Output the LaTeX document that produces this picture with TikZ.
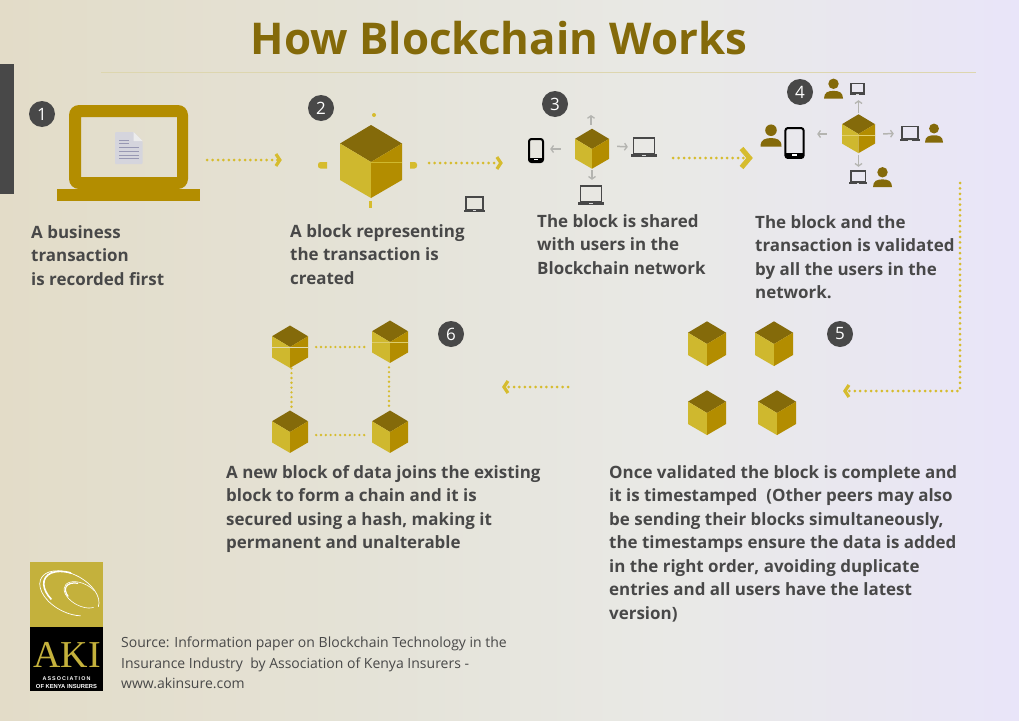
\documentclass[tikz,border=0pt]{standalone}
\usepackage{fontspec}
\setmainfont{Open Sans}
\newfontfamily\logoserif{Liberation Serif}
\newfontfamily\logosans[LetterSpace=20]{Liberation Sans}
\newfontfamily\logosanstight{Liberation Sans}
\usetikzlibrary{positioning}
\usetikzlibrary{arrows.meta}
\definecolor{akidark}{HTML}{484848}
\definecolor{akigold}{HTML}{B38D00}
\definecolor{akibrown}{HTML}{846A0A}
\definecolor{akiyellow}{HTML}{CFB82E}
\definecolor{akidots}{HTML}{D6BC2E}
\definecolor{akigrey}{HTML}{B4B4B0}
\definecolor{akilogo}{HTML}{C4B13C}
\definecolor{bgmid}{HTML}{E7E6E0}
\definecolor{akibg0}{HTML}{E3DCC8}
\definecolor{akibg1}{HTML}{E4E2D6}
\definecolor{akibg2}{HTML}{E9E9E6}
\definecolor{akibg3}{HTML}{E9E7F1}
\definecolor{akibg4}{HTML}{E9E5F9}
\pgfdeclarehorizontalshading{pagebg}{100bp}{
  color(0bp)=(akibg0); color(25bp)=(akibg0); color(42bp)=(akibg1);
  color(58bp)=(akibg2); color(68bp)=(akibg3); color(75bp)=(akibg4); color(100bp)=(akibg4)}
\tikzset{
  cube/.pic = {
    \fill[akibrown] (0,-37) -- (31,-18.5) -- (0,0) -- (-31,-18.5) -- cycle;
    \fill[akiyellow] (-31,-18.5) -- (0,0) -- (0,36) -- (-31,18) -- cycle;
    \fill[akigold] (31,-18.5) -- (0,0) -- (0,36) -- (31,18) -- cycle;
  },
  biglaptop/.pic = {
    \fill[akigold,even odd rule,rounded corners=10pt] (-59.5,-48) rectangle (59.5,36)
      [sharp corners] (-47.5,-36) rectangle (48.5,24);
    \fill[akigold] (-71.5,36) rectangle (71.5,48);
    % the document on the screen
    \fill[rounded corners=1pt,fill=blue!10!gray!30] (-13.5,-21) -- (5,-21) -- (14,-12) -- (14,11) -- (-13.5,11) -- cycle;
    \fill[gray!15] (5,-21) -- (14,-12) -- (5,-12) -- cycle;
    \foreach \ypos in {-6,-2,2,5}
      \draw[blue!15!gray!70,line width=1pt] (-9.5,\ypos) -- (10,\ypos);
    \foreach \ypos in {-13,-10}
      \draw[blue!15!gray!70,line width=1pt] (-9.5,\ypos) -- (0,\ypos);
  },
  laptop/.pic = {
    \draw[akidark,line width=1.7pt] (-10.5,-9) rectangle (10.5,7);
    \fill[akidark] (-13,7) -- (13,7) -- (13,10) -- (-13,10) -- cycle;
    \fill[white!80!akidark] (-2,8) rectangle (2,9);
  },
  phone/.pic = {
    \draw[black,line width=2pt,rounded corners=2.5pt] (-7,-11.5) rectangle (7,11.5);
    \fill[black] (-7,7.5) rectangle (7,11);
    \fill[white] (-2,8.7) rectangle (2,9.7);
  },
  person/.pic = {
    \fill[akibrown] (0,-5.5) circle (5.5);
    \fill[akibrown] (-10,10) .. controls (-10,3) and (-5,2) .. (0,2)
      .. controls (5,2) and (10,3) .. (10,10) -- cycle;
  },
  numdot/.style = {circle,fill=akidark,text=white,inner sep=0pt,minimum size=26pt,
    font=\fontsize{17}{20}\selectfont},
  caption/.style = {anchor=north west,inner sep=0pt,align=left,text=akidark,
    font=\fontsize{16.95}{23.5}\selectfont\bfseries},
  spot/.style = {inner sep=0pt},
  dotarrow/.style = {draw=akidots,line width=3pt,line cap=round,dash pattern=on 0pt off 5.4pt,
    -{Straight Barb[length=4pt,width=12pt,line width=3.2pt]}},
  bigdotarrow/.style = {dotarrow,
    -{Straight Barb[length=8pt,width=19pt,line width=5pt]}},
  dotlink/.style = {draw=akidots,line width=2.6pt,line cap=round,dash pattern=on 0pt off 4.8pt},
  greyarrow/.style = {draw=akigrey,line width=1.5pt,
    -{Straight Barb[length=2.5pt,width=7pt,line width=1.3pt]}},
}
% #1 name, #2 position, #3 half width of the cube
\newcommand{\blockcube}[3]{
  \node[spot,minimum width=2*#3 pt,minimum height=2.35*#3 pt] (#1) at (#2) {};
  \pic[scale=#3/31] at (#1) {cube};
}
% #1 name, #2 position, #3 pic, #4 scale, #5 width, #6 height
\newcommand{\iconat}[6]{
  \node[spot,minimum width=#5 pt,minimum height=#6 pt] (#1) at (#2) {};
  \pic[scale=#4] at (#1) {#3};
}
\begin{document}
\begin{tikzpicture}[x=1pt,y=-1pt]
  \useasboundingbox (0,0) rectangle (1019,720);
  \shade[shading=pagebg] (0,0) rectangle (1019,720);
  \fill[akidark] (0,64) rectangle (14,194);
  \draw[akilogo!30!bgmid,line width=1pt] (101,72) -- (976,72);
  \node[inner sep=0pt,text=akibrown,font=\fontsize{43.8}{50}\selectfont\bfseries] (title) at (499,38.5) {How Blockchain Works};

  % step 1
  \node[numdot] (n1) at (42,114) {1};
  \iconat{l1}{128.5,153}{biglaptop}{1}{143}{96}
  \node[caption] (t1) at (31,225) {A business\\transaction\\is recorded first};

  % step 2
  \node[numdot] (n2) at (321,108) {2};
  \blockcube{c2}{371,162}{31}
  \draw[akiyellow,line width=.6pt] (371,162) -- (402,162);
  \fill[akidots] (374,115) circle (2);
  \fill[akidots] (327,162) -- (327,168.5) [rounded corners=2.5pt] -- (318,168.5) -- (318,162) [sharp corners] -- cycle;
  \fill[akidots] (410,162) -- (410,168.5) [rounded corners=2.5pt] -- (417,168.5) -- (417,162) [sharp corners] -- cycle;
  \fill[akidots] (369,201) rectangle (372,208);
  \iconat{l2}{474.5,204}{laptop}{.8}{21}{16}
  \node[caption] (t2) at (290,224) {A block representing\\the transaction is\\created};
  \draw[dotarrow,shorten <=7pt,shorten >=58pt] ([yshift=-7pt]l1.east) -- ([yshift=2pt]c2.west);

  % step 3
  \node[numdot] (n3) at (555,104) {3};
  \blockcube{c3}{592,149}{17}
  \iconat{p3}{536,150.5}{phone}{1}{16}{25}
  \iconat{la3}{644,147}{laptop}{1}{26}{20}
  \iconat{lb3}{591,195}{laptop}{1}{26}{20}
  \coordinate (u3) at (591,115);
  \draw[greyarrow,shorten <=4pt] (c3.north) ++(-1,0) -- (u3);
  \draw[greyarrow,shorten <=14pt,shorten >=6pt] (c3.west) -- (p3.east |- c3.west);
  \draw[greyarrow,shorten <=8pt,shorten >=3pt] (c3.east) ++(0,-3) -- (la3.west);
  \draw[greyarrow,shorten <=1pt,shorten >=5pt] (c3.south) -- (c3.south |- lb3.north);
  \node[caption] (t3) at (537,214) {The block is shared\\with users in the\\Blockchain network};
  \draw[dotarrow,shorten <=27pt,shorten >=72pt] ([yshift=-1pt]c2.east) -- ([yshift=-14pt]c3.west);

  % step 4
  \node[numdot] (n4) at (800,92) {4};
  \blockcube{c4}{858.5,134}{16.5}
  \draw[akidots!70!white,line width=.5pt] (842,135) -- (875,135);
  \iconat{p4}{794.5,143}{phone}{1.3}{21}{32}
  \iconat{pl4}{771,136}{person}{1.05}{22}{22}
  \iconat{pt4}{833.5,89}{person}{.95}{19}{20}
  \iconat{lt4}{857.5,89}{laptop}{.6}{15}{12}
  \iconat{lr4}{910,133.5}{laptop}{.78}{20}{15}
  \iconat{pr4}{934,133.5}{person}{.9}{18}{19}
  \iconat{lb4}{858,177}{laptop}{.7}{18}{14}
  \iconat{pb4}{882.5,177.5}{person}{.95}{19}{19}
  \draw[greyarrow,shorten <=1pt,shorten >=5pt] (c4.north) -- (c4.north |- lt4.south);
  \draw[greyarrow,shorten <=15pt,shorten >=12pt] (c4.west) -- (p4.east |- c4.west);
  \draw[greyarrow,shorten <=8pt,shorten >=6pt] (c4.east) -- (lr4.west);
  \draw[greyarrow,shorten <=1pt,shorten >=3pt] (c4.south) -- (c4.south |- lb4.north);
  \node[caption] (t4) at (755,215) {The block and the\\transaction is validated\\by all the users in the\\network.};
  \draw[bigdotarrow,shorten <=64pt,shorten >=7pt] ([yshift=-9pt]c3.east) -- ([yshift=-22pt]pl4.west);

  % step 5
  \node[numdot] (n5) at (840,334) {5};
  \blockcube{c5a}{707,344}{19}
  \blockcube{c5b}{774,344}{19}
  \blockcube{c5c}{707,413}{19}
  \blockcube{c5d}{777,413}{19}
  \node[caption] (t5) at (609,465) {Once validated the block is complete and\\it is timestamped\ \ (Other peers may also\\be sending their blocks simultaneously,\\the timestamps ensure the data is added\\in the right order, avoiding duplicate\\entries and all users have the latest\\version)};
  \coordinate (a4s) at (960,183);
  \coordinate (a4e) at (843,391);
  \draw[dotarrow] (a4s) |- (a4e);

  % step 6
  \node[numdot] (n6) at (451,334) {6};
  \blockcube{a6}{290,347}{18}
  \blockcube{b6}{390,342}{18}
  \blockcube{c6}{290,432}{18}
  \blockcube{d6}{390,432}{18}
  \draw[akibg2!70!akiyellow,line width=.8pt] (272,347) -- (308,347);
  \draw[akiyellow!70!white,line width=.5pt] (372,342) -- (408,342);
  \draw[dotlink,shorten <=8pt,shorten >=4pt] (a6.east) -- (a6.east -| b6.west);
  \draw[dotlink,shorten <=8pt,shorten >=4pt] ([yshift=-3pt]c6.east) -- ([yshift=-3pt]d6.west);
  \draw[dotlink,shorten >=3pt] ([xshift=1.5pt]a6.south) -- ([xshift=1.5pt]c6.north);
  \draw[dotlink,shorten <=4pt,shorten >=3pt] ([xshift=-1pt]b6.south) -- ([xshift=-1pt]d6.north);
  \node[caption] (t6) at (226,465) {A new block of data joins the existing\\block to form a chain and it is\\secured using a hash, making it\\permanent and unalterable};
  \coordinate (a5s) at (568,387);
  \coordinate (a5e) at (502,387);
  \draw[dotarrow] (a5s) -- (a5e);

  % logo
  \fill[akilogo] (30,562) rectangle (103,627);
  \fill[black] (30,627) rectangle (103,691);
  \begin{scope}[white,rotate around={-28:(70.5,592)}]
    \draw[line width=.7pt] (102,592) arc (-5:-310:32 and 19);
    \draw[line width=1.6pt] (62,575) arc (-110:-240:31 and 18);
  \end{scope}
  \begin{scope}[white,rotate around={-28:(81,595)}]
    \draw[line width=.6pt] (91,585) arc (-60:-330:19 and 11);
    \draw[line width=1.2pt] (73,586) arc (-120:-230:18 and 10);
  \end{scope}
  \node[inner sep=0pt,text=akilogo,font=\logoserif\fontsize{38}{40}\selectfont] (aki) at (67,655) {AKI};
  \node[inner sep=0pt,text=white,font=\logosans\bfseries\fontsize{5.4}{6}\selectfont] (aki1) at (66.5,679) {ASSOCIATION};
  \node[inner sep=0pt,text=white,font=\logosanstight\bfseries\fontsize{5.8}{6}\selectfont] (aki2) at (66.5,686.5) {OF KENYA INSURERS};

  \node[anchor=north west,inner sep=0pt,align=left,text=akidark,font=\fontsize{14}{20.5}\selectfont] (src) at (121,637)
    {Source: Information paper on Blockchain Technology in the\\Insurance Industry\ \ by Association of Kenya Insurers -\\www.akinsure.com};
\end{tikzpicture}
\end{document}
